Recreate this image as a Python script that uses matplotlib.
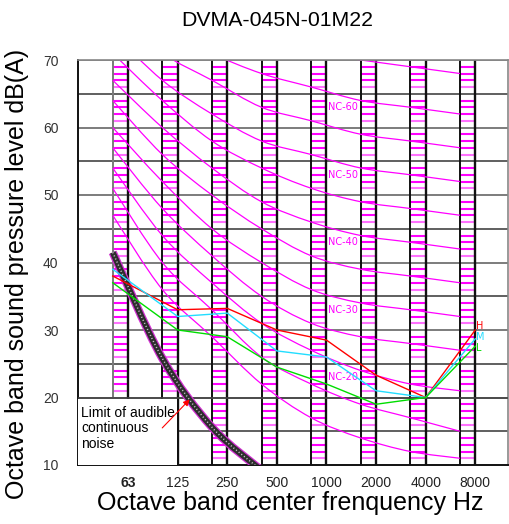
import matplotlib
matplotlib.use('Agg')
import matplotlib.pyplot as plt
import numpy as np
from matplotlib.patches import Rectangle, PathPatch
from matplotlib.path import Path

# ---------------- data ----------------
bands = ['63', '125', '250', '500', '1000', '2000', '4000', '8000']
H = [38, 33, 33.2, 30, 28.5, 23.3, 20, 30]
M = [39, 32, 32.5, 26.9, 26, 21, 20, 28.7]
L = [37, 30, 29, 24.5, 22, 19, 20, 27.6]

nc15 = [47, 36, 29, 22, 17, 14, 12, 11]
nc20 = [51, 40, 33, 26, 22, 19, 17, 15]
nc25 = [54, 44, 37, 31, 27, 24, 22, 21]
nc30 = [57, 48, 41, 35, 31, 29, 28, 27]
nc35 = [60, 52, 45, 40, 36, 34, 33, 32]
nc40 = [64, 56, 50, 45, 41, 39, 38, 37]
nc45 = [67, 60, 54, 49, 46, 44, 43, 42]
nc50 = [71, 64, 58, 54, 51, 49, 48, 47]
nc55 = [74, 67, 62, 58, 56, 54, 53, 52]
nc60 = [77, 71, 67, 63, 61, 59, 58, 57]
nc65 = [80, 75, 71, 68, 66, 64, 63, 62]
nc70 = [83, 79, 75, 72, 71, 70, 69, 68]
nc_curves = [nc15, nc20, nc25, nc30, nc35, nc40, nc45, nc50, nc55, nc60, nc65, nc70]
nc_label_names = ['NC-20', 'NC-30', 'NC-40', 'NC-50', 'NC-60']
nc_label_db = [23, 33, 43, 53, 63]

audible_bands = ['63', '125', '250', '500']
audible_db = [41.5, 25.8, 15.6, 9.2]

y_ticks = [10, 20, 30, 40, 50, 60, 70]


def smooth_path(xs, ys):
    """Catmull-Rom curve through the given points, as cubic Bezier path."""
    p = np.column_stack([xs, ys]).astype(float)
    ext = np.vstack([p[0], p, p[-1]])
    verts = [p[0]]
    codes = [Path.MOVETO]
    for i in range(len(p) - 1):
        p0, p1, p2, p3 = ext[i], ext[i + 1], ext[i + 2], ext[i + 3]
        verts += [p1 + (p2 - p0) / 6.0, p2 - (p3 - p1) / 6.0, p2]
        codes += [Path.CURVE4] * 3
    return Path(verts, codes)


def smooth_line(ax, xs, ys, **kw):
    patch = PathPatch(smooth_path(xs, ys), fill=False, **kw)
    ax.add_patch(patch)
    return patch


# ---------------- figure ----------------
fig = plt.figure(figsize=(5.09, 5.24), dpi=100)
ax = fig.add_axes([78/509, 1-465/524, 430/509, 405/524])
ax.set_xlim(-0.01, 8.66)
ax.set_ylim(10, 70)

n = len(bands)
col_left = np.arange(n) + 0.69
col_right = np.arange(n) + 1.0

# horizontal grid
for v in range(15, 71, 5):
    c = '#444444' if v % 10 else '#666666'
    ax.axhline(v, color=c, lw=1.2, zorder=1)

# hatched columns
for i in range(n):
    for d in range(11, 70):
        if d % 5 == 0:
            continue
        col = '#ff70ff' if d % 5 == 1 else '#ff00ff'
        ax.plot([col_left[i], col_right[i]], [d, d], color=col, lw=1.5,
                solid_capstyle='butt', zorder=2)
    ax.axvline(col_left[i], color='#7a7a7a' if i == 0 else '#111111', lw=1.4, zorder=2.5)
    ax.axvline(col_right[i], color='#111111', lw=1.7, zorder=2.5)

# blank region under the audible limit
ax.add_patch(Rectangle((-0.01, 10), 1.99, 9.85, facecolor='white', edgecolor='none', zorder=3))
ax.axhline(20, color='#444444', lw=1.2, zorder=3.2)

# NC curves
for curve in nc_curves:
    smooth_line(ax, col_left, curve, edgecolor='#ff00ff', lw=0.9, zorder=4)
for name, v in zip(nc_label_names, nc_label_db):
    ax.text(5.33, v, name, color='#ff00ff', fontsize=7, ha='center', va='center',
            family='DejaVu Sans', zorder=5)

# audible limit
aud_x = col_left[:len(audible_db)]
smooth_line(ax, aud_x, audible_db, edgecolor='#d030d0', lw=6.0, capstyle='butt', zorder=5)
smooth_line(ax, aud_x, audible_db, edgecolor='#2e2e2e', lw=4.2, capstyle='butt', zorder=5.1)
smooth_line(ax, aud_x, audible_db, edgecolor='#c8c8c8', lw=1.1, linestyle=(0, (0.7, 1.5)),
            zorder=5.2)

# H M L lines
hx = np.concatenate([[col_left[0]], col_right[1:]])
ax.plot(hx, H, color='#ff0000', lw=1.0, zorder=6)
ax.plot(hx, M, color='#22ddff', lw=1.0, zorder=6)
ax.plot(hx, L, color='#00dd00', lw=1.0, zorder=6)
ax.text(8.02, 30.6, 'H', color='#ff0000', fontsize=7, family='DejaVu Sans', va='center', zorder=7)
ax.text(8.02, 28.9, 'M', color='#22ddff', fontsize=7, family='DejaVu Sans', va='center', zorder=7)
ax.text(8.02, 27.4, 'L', color='#00dd00', fontsize=7, family='DejaVu Sans', va='center', zorder=7)

# annotation
ax.text(0.05, 18.8, 'Limit of audible\ncontinuous\nnoise', fontsize=10,
        family='Liberation Sans', va='top', ha='left', linespacing=1.15, zorder=7)
ax.annotate('', xy=(2.28, 20.0), xytext=(1.65, 15.2),
            arrowprops=dict(arrowstyle='-|>', color='#ff0000', lw=0.8,
                            mutation_scale=9), zorder=7)

# axes styling
for s in ['left', 'bottom']:
    ax.spines[s].set_color('#111111')
    ax.spines[s].set_linewidth(1.4)
for s in ['top', 'right']:
    ax.spines[s].set_color('#888888')
    ax.spines[s].set_linewidth(1.2)
ax.spines['top'].set_zorder(8)

ax.set_xticks(col_right)
ax.set_xticklabels(bands, fontsize=10, family='Liberation Sans', color='#222222')
ax.get_xticklabels()[0].set_fontweight('bold')
ax.tick_params(axis='x', length=0, pad=8)
ax.set_yticks(y_ticks)
ax.set_yticklabels([str(t) for t in y_ticks], fontsize=10, family='Liberation Sans', color='#333333')
ax.tick_params(axis='y', length=0, pad=14)

fig.text(277/509, 1-26/524, 'DVMA-045N-01M22', fontsize=15.3, family='Liberation Sans',
         ha='center', va='baseline')
fig.text(290/509, 14/524, 'Octave band center frenquency Hz', fontsize=18,
         family='Liberation Sans', ha='center', va='baseline')
fig.text(17/509, 1-274/524, 'Octave band sound pressure level dB(A)', fontsize=18,
         family='Liberation Sans', ha='center', va='center', rotation=90)

fig.savefig('out.png', dpi=100)
